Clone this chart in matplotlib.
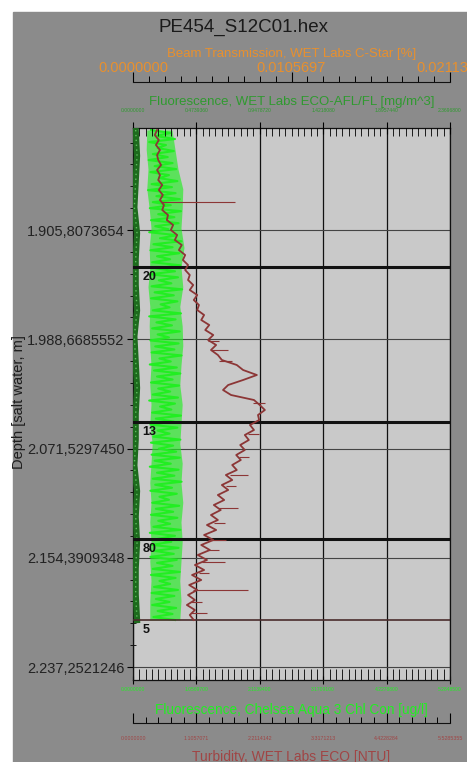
import numpy as np
import matplotlib
matplotlib.use('Agg')
import matplotlib.pyplot as plt
from matplotlib.patches import Rectangle
from matplotlib.ticker import FixedLocator, FixedFormatter, AutoMinorLocator

plt.rcParams['font.family'] = ['Liberation Sans', 'DejaVu Sans']

# --- data ---
title = 'PE454_S12C01.hex'

depth_ticks = [1905.8073654, 1988.6685552, 2071.5297450, 2154.3909348, 2237.2521246]
depth_labels = ['1.905,8073654', '1.988,6685552', '2.071,5297450',
                '2.154,3909348', '2.237,2521246']
depth_top, depth_bottom = 1828.44, 2247.11
profile_top, profile_bottom = 1829.96, 2201.60

beam_ticks = [0.0, 0.0105697, 0.0211394]
afl_ticks = [0.0, 0.4739360, 0.9478720, 1.4218080, 1.8957440, 2.3696800]
chl_ticks = [0.0, 1.0569700, 2.1139400, 3.1709100, 4.2278800, 5.2848500]
turb_ticks = [0.0, 1.1057071, 2.2114142, 3.3171213, 4.4228284, 5.5285355]

# Turbidity [NTU], top to bottom of the cast
turb_values = [
    0.42, 0.38, 0.45, 0.40, 0.47, 0.42, 0.44, 0.49, 0.42, 0.47, 0.44, 0.51,
    0.45, 0.52, 0.47, 0.54, 0.51, 0.61, 0.59, 0.70, 0.66, 0.77, 0.73, 0.85,
    0.80, 0.91, 0.87, 0.96, 0.91, 0.99, 0.96, 1.05, 0.99, 1.12, 1.06, 1.15,
    1.12, 1.24, 1.19, 1.33, 1.26, 1.40, 1.31, 1.45, 1.36, 1.48, 1.55, 1.81,
    1.92, 2.16, 1.92, 1.66, 1.57, 1.71, 2.11, 2.21, 2.30, 2.18, 2.20, 2.04,
    2.11, 1.95, 2.02, 1.87, 1.95, 1.80, 1.88, 1.73, 1.81, 1.62, 1.73, 1.55,
    1.66, 1.48, 1.59, 1.41, 1.53, 1.36, 1.48, 1.29, 1.45, 1.24, 1.40, 1.19,
    1.34, 1.13, 1.29, 1.08, 1.24, 1.03, 1.19, 0.98, 1.12, 0.96, 1.08, 0.94,
    1.08, 0.99, 1.06,
]
# single-scan turbidity spikes
spike_depth = [1884.57, 1990.00, 1996.82, 2005.00, 2037.00, 2060.50, 2078.00,
               2091.63, 2100.00, 2116.66, 2128.00, 2140.93, 2148.50, 2157.61,
               2166.00, 2178.85, 2188.00, 2196.29]
spike_from = [0.49, 1.31, 1.36, 1.50, 2.10, 2.00, 1.85, 1.69, 1.62, 1.48, 1.42,
              1.31, 1.30, 1.20, 1.15, 1.05, 1.02, 1.01]
spike_to = [1.78, 1.50, 1.66, 1.72, 2.30, 2.20, 2.02, 2.01, 1.80, 1.83, 1.60,
            1.62, 1.50, 1.60, 1.32, 2.01, 1.20, 1.29]

# Fluorescence, Chelsea Aqua 3 [ug/l]
chl_values = [
    0.30, 0.62, 0.38, 0.70, 0.27, 0.55, 0.41, 0.68, 0.33, 0.58, 0.26, 0.66,
    0.36, 0.72, 0.29, 0.60, 0.44, 0.74, 0.31, 0.65, 0.25, 0.71, 0.39, 0.78,
    0.33, 0.63, 0.28, 0.80, 0.42, 0.69, 0.30, 0.76, 0.37, 0.59, 0.27, 0.73,
    0.45, 0.81, 0.34, 0.66, 0.29, 0.77, 0.40, 0.62, 0.32, 0.79, 0.38, 0.70,
    0.28, 0.75, 0.43, 0.64, 0.31, 0.82, 0.36, 0.68, 0.30, 0.74, 0.46, 0.61,
    0.33, 0.80, 0.27, 0.71, 0.39, 0.65, 0.32, 0.78, 0.41, 0.60, 0.29, 0.76,
    0.37, 0.69, 0.31, 0.81, 0.44, 0.63, 0.28, 0.73, 0.35, 0.79, 0.40, 0.66,
    0.30, 0.77, 0.42, 0.62, 0.33, 0.75, 0.27, 0.70, 0.45, 0.64, 0.32, 0.80,
    0.38, 0.68, 0.29, 0.74, 0.41, 0.61, 0.34, 0.79, 0.30, 0.67, 0.43, 0.72,
    0.31, 0.78, 0.36, 0.63, 0.28, 0.76, 0.40, 0.69, 0.33, 0.81, 0.37, 0.65,
    0.29, 0.73, 0.44, 0.60, 0.32, 0.77, 0.38, 0.67, 0.30, 0.74, 0.42, 0.62,
    0.34, 0.79, 0.28, 0.70, 0.41, 0.64, 0.31, 0.76, 0.36, 0.68, 0.29, 0.73,
    0.40, 0.66, 0.33, 0.78, 0.30, 0.71, 0.44, 0.62, 0.35, 0.75, 0.31, 0.69,
    0.38, 0.61, 0.32, 0.72, 0.41, 0.66, 0.34, 0.70,
]
# left / right edge of the dense Chelsea band [ug/l]
chl_lo = [0.23, 0.22, 0.25, 0.23, 0.27, 0.30, 0.27, 0.28, 0.25, 0.28, 0.27, 0.28, 0.30,
          0.28, 0.30, 0.28, 0.32, 0.30, 0.28, 0.30, 0.28, 0.30, 0.28, 0.30, 0.28, 0.28]
chl_hi = [0.65, 0.70, 0.75, 0.83, 0.82, 0.80, 0.85, 0.80, 0.83, 0.78, 0.82, 0.83, 0.80,
          0.78, 0.82, 0.80, 0.78, 0.82, 0.80, 0.83, 0.80, 0.82, 0.80, 0.78, 0.80, 0.78]

# Fluorescence, WET Labs ECO-AFL/FL [mg/m^3] (sits at the left edge)
afl_values = [0.02, 0.03, 0.02, 0.01, 0.03, 0.02, 0.02, 0.03, 0.01, 0.02,
              0.03, 0.02, 0.02, 0.01, 0.03, 0.02, 0.03, 0.02, 0.02, 0.03]

bottle_depth = [1933.87, 2051.43, 2140.17, 2201.60]
bottle_labels = ['20', '13', '80', '5']

# --- colours ---
bg_outer = '#8b8b8b'
bg_plot = '#c9c9c9'
c_beam = '#e8902e'
c_afl = '#2f9a2f'
c_chl = '#22ee22'
c_turb = '#8c3636'

W, H = 467, 762
fig = plt.figure(figsize=(W / 100, H / 100), dpi=100, facecolor='white')
fig.patches.append(Rectangle((13 / W, 0), 1, (H - 12) / H, transform=fig.transFigure,
                             color=bg_outer, zorder=-10))

left, right, top, bottom = 133, 450, 128, 680
ax = fig.add_axes([left / W, 1 - bottom / H, (right - left) / W, (bottom - top) / H])
ax.set_facecolor(bg_plot)
ax.set_ylim(depth_bottom, depth_top)
ax.set_xlim(chl_ticks[0], chl_ticks[-1])

fig.text(243 / W, 1 - 27 / H, title, ha='center', va='center', fontsize=13.5, color='#1a1a1a')
fig.text(19 / W, 1 - 402 / H, 'Depth [salt water, m]', rotation=90, ha='center',
         va='center', fontsize=10.5, color='#1e1e1e')

# depth axis
ax.yaxis.set_major_locator(FixedLocator(depth_ticks))
ax.yaxis.set_major_formatter(FixedFormatter(depth_labels))
ax.yaxis.set_minor_locator(AutoMinorLocator(5))
ax.tick_params(axis='y', which='major', direction='out', length=4, width=0.8,
               labelsize=10.5, labelcolor='#222222', pad=2)
ax.tick_params(axis='y', which='minor', direction='inout', length=4, width=0.6)

# bottom axis: Chelsea fluorescence
ax.xaxis.set_major_locator(FixedLocator(chl_ticks))
ax.xaxis.set_major_formatter(FixedFormatter(['%.7f' % v for v in chl_ticks]))
ax.xaxis.set_minor_locator(AutoMinorLocator(10))
ax.tick_params(axis='x', which='major', direction='inout', length=6, width=0.8,
               labelsize=3.6, labelcolor=c_chl, pad=2)
ax.tick_params(axis='x', which='minor', direction='in', length=8, width=0.6)
ax.set_xlabel('Fluorescence, Chelsea Aqua 3 Chl Con [ug/l]', fontsize=9.8,
              color=c_chl, labelpad=8)

ax.set_axisbelow(True)
ax.grid(axis='x', which='major', color='#111111', lw=0.9)
ax.grid(axis='y', which='major', color='#444444', lw=0.8)
for s in ax.spines.values():
    s.set_color('#111111')
    s.set_linewidth(0.9)

band_depth = np.linspace(profile_top, profile_bottom, len(chl_lo))
ax.fill_betweenx(band_depth, chl_lo, chl_hi, color=c_chl, alpha=0.65, lw=0, zorder=1)
chl_depth = np.linspace(profile_top, profile_bottom, len(chl_values))
ax.plot(chl_values, chl_depth, color=c_chl, lw=1.5, zorder=2)

# top axis: ECO-AFL fluorescence
ax_afl = ax.twiny()
ax_afl.set_xlim(afl_ticks[0], afl_ticks[-1])
ax_afl.xaxis.set_major_locator(FixedLocator(afl_ticks))
ax_afl.xaxis.set_major_formatter(FixedFormatter(['%.7f' % v for v in afl_ticks]))
ax_afl.xaxis.set_minor_locator(AutoMinorLocator(10))
ax_afl.tick_params(axis='x', which='major', direction='inout', length=9, width=0.8,
                   labelsize=3.6, labelcolor=c_afl, pad=6)
ax_afl.tick_params(axis='x', which='minor', direction='in', length=6, width=0.6)
ax_afl.set_xlabel('Fluorescence, WET Labs ECO-AFL/FL [mg/m^3]', fontsize=9.5,
                  color=c_afl, labelpad=2.5)
for s in ax_afl.spines.values():
    s.set_visible(False)
afl_depth = np.linspace(profile_top, profile_bottom, len(afl_values))
ax_afl.plot(afl_values, afl_depth, color='#1d6a1d', lw=4.5, zorder=2)
ax_afl.plot(afl_values, afl_depth, color='#5cc05c', lw=1.0, ls=(0, (1, 2.5)), zorder=2)

# upper axis: beam transmission
ax_beam = ax.twiny()
ax_beam.set_xlim(beam_ticks[0], beam_ticks[-1])
ax_beam.spines['top'].set_position(('axes', (bottom - 82) / (bottom - top)))
for k in ['bottom', 'left', 'right']:
    ax_beam.spines[k].set_visible(False)
ax_beam.spines['top'].set_color('#111111')
ax_beam.xaxis.set_major_locator(FixedLocator(beam_ticks))
ax_beam.xaxis.set_major_formatter(FixedFormatter(['%.7f' % v for v in beam_ticks]))
ax_beam.xaxis.set_minor_locator(AutoMinorLocator(10))
ax_beam.tick_params(axis='x', which='major', direction='out', length=7, width=0.8,
                    labelsize=10.5, labelcolor=c_beam, pad=-2)
ax_beam.tick_params(axis='x', which='minor', direction='out', length=4.5, width=0.7)
ax_beam.set_xlabel('Beam Transmission, WET Labs C-Star [%]', fontsize=9.5,
                   color=c_beam, labelpad=3)

# lower axis: turbidity
ax_turb = ax.twiny()
ax_turb.set_xlim(turb_ticks[0], turb_ticks[-1])
ax_turb.xaxis.set_ticks_position('bottom')
ax_turb.xaxis.set_label_position('bottom')
ax_turb.spines['bottom'].set_position(('axes', -(723 - bottom) / (bottom - top)))
for k in ['top', 'left', 'right']:
    ax_turb.spines[k].set_visible(False)
ax_turb.spines['bottom'].set_color('#111111')
ax_turb.xaxis.set_major_locator(FixedLocator(turb_ticks))
ax_turb.xaxis.set_major_formatter(FixedFormatter(['%.7f' % v for v in turb_ticks]))
ax_turb.xaxis.set_minor_locator(AutoMinorLocator(5))
ax_turb.tick_params(axis='x', which='major', direction='in', length=7, width=0.8,
                    labelsize=3.8, labelcolor='#a04545', pad=9)
ax_turb.tick_params(axis='x', which='minor', direction='in', length=4.5, width=0.7)
ax_turb.set_xlabel('Turbidity, WET Labs ECO [NTU]', fontsize=10, color='#a04545',
                   labelpad=7)

# bottle-fire marks
for i, (d, lbl) in enumerate(zip(bottle_depth, bottle_labels)):
    last = i == len(bottle_depth) - 1
    ax_turb.axhline(d, color='#4a2c2c' if last else '#111111', lw=1.2 if last else 2.2,
                    zorder=3)
    ax_turb.annotate(lbl, (0.03, d), xycoords=ax_turb.get_yaxis_transform(),
                     xytext=(0, -3), textcoords='offset points', va='top', ha='left',
                     fontsize=9, fontweight='bold', color='#111111', zorder=5)

turb_depth = np.linspace(profile_top, profile_bottom, len(turb_values))
ax_turb.hlines(spike_depth, spike_from, spike_to, color=c_turb, lw=0.8, zorder=4)
ax_turb.plot(turb_values, turb_depth, color=c_turb, lw=1.3, zorder=4)

fig.savefig('out.png', dpi=100, facecolor=fig.get_facecolor())
